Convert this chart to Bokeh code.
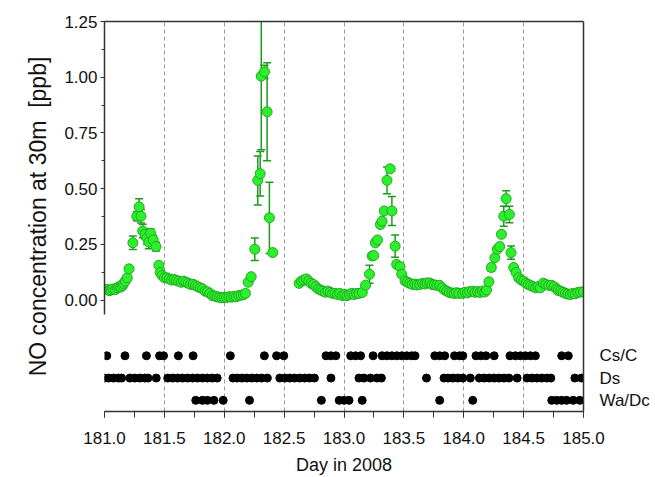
from bokeh.plotting import figure
from bokeh.models import (Range1d, LinearAxis, SingleIntervalTicker, FixedTicker,
                          PrintfTickFormatter, CustomJSTickFormatter, ColumnDataSource)
from bokeh.embed import file_html
from bokeh.resources import INLINE

# ---------------- data ----------------
day = [181.02, 181.04, 181.055, 181.07, 181.09, 181.105, 181.12, 181.135, 181.15, 181.16,
       181.173, 181.19, 181.205, 181.237, 181.27, 181.289, 181.305, 181.319, 181.338, 181.355,
       181.37, 181.385, 181.407, 181.43, 181.454, 181.465, 181.48, 181.50, 181.52, 181.54,
       181.56, 181.58, 181.60, 181.62, 181.64, 181.66, 181.68, 181.70, 181.72, 181.74,
       181.76, 181.78, 181.80, 181.82, 181.84, 181.86, 181.88, 181.90, 181.92, 181.94,
       181.96, 181.98, 182.00, 182.02, 182.04, 182.06, 182.08, 182.10, 182.12, 182.14,
       182.16, 182.177, 182.20, 182.225, 182.255, 182.28, 182.30, 182.309, 182.336, 182.358,
       182.377, 182.405,
       182.625, 182.645, 182.665, 182.685, 182.705, 182.725, 182.745, 182.765, 182.785, 182.805,
       182.825, 182.845, 182.865, 182.885, 182.905, 182.925, 182.945, 182.965, 182.985, 183.005,
       183.025, 183.045, 183.065, 183.085, 183.105, 183.125, 183.153, 183.18, 183.213, 183.235,
       183.249, 183.262, 183.28, 183.304, 183.318, 183.336, 183.359, 183.386, 183.40, 183.427,
       183.44, 183.468, 183.482, 183.51, 183.53, 183.55, 183.57, 183.59, 183.61, 183.633,
       183.655, 183.675, 183.695, 183.716, 183.735, 183.755, 183.775, 183.798, 183.82, 183.84,
       183.86, 183.88, 183.90, 183.92, 183.94, 183.96, 183.99, 184.01, 184.03, 184.05,
       184.074, 184.095, 184.115, 184.135, 184.155, 184.175, 184.19, 184.21, 184.23, 184.26,
       184.28, 184.30, 184.315, 184.334, 184.354, 184.381, 184.395, 184.417, 184.437, 184.458,
       184.48, 184.50, 184.52, 184.54, 184.56, 184.58, 184.60, 184.62, 184.64, 184.664,
       184.685, 184.71, 184.733, 184.755, 184.775, 184.79, 184.81, 184.83, 184.85, 184.87,
       184.89, 184.91, 184.93, 184.953, 184.975, 185.0]
no_ppb = [0.048, 0.042, 0.045, 0.05, 0.047, 0.055, 0.06, 0.058, 0.065, 0.075,
          0.085, 0.10, 0.14, 0.257, 0.376, 0.418, 0.376, 0.31, 0.295, 0.28,
          0.26, 0.30, 0.27, 0.24, 0.156, 0.124, 0.11, 0.10, 0.10, 0.095,
          0.09, 0.092, 0.088, 0.085, 0.08, 0.085, 0.08, 0.075, 0.07, 0.071,
          0.065, 0.06, 0.055, 0.05, 0.04, 0.037, 0.03, 0.02, 0.018, 0.015,
          0.012, 0.01, 0.012, 0.012, 0.015, 0.013, 0.016, 0.015, 0.02, 0.022,
          0.024, 0.03, 0.08, 0.105, 0.228, 0.537, 0.567, 1.005, 1.024, 0.845,
          0.369, 0.213,
          0.075, 0.085, 0.09, 0.095, 0.085, 0.075, 0.07, 0.06, 0.05, 0.045,
          0.04, 0.035, 0.04, 0.035, 0.03, 0.03, 0.025, 0.03, 0.02, 0.025,
          0.02, 0.025, 0.03, 0.025, 0.03, 0.03, 0.034, 0.067, 0.116, 0.198,
          0.20, 0.257, 0.27, 0.339, 0.354, 0.40, 0.537, 0.589, 0.40, 0.242,
          0.16, 0.15, 0.116, 0.086, 0.08, 0.075, 0.07, 0.072, 0.068, 0.07,
          0.075, 0.072, 0.077, 0.077, 0.07, 0.068, 0.066, 0.066, 0.055, 0.045,
          0.04, 0.034, 0.032, 0.03, 0.033, 0.03, 0.03, 0.035, 0.032, 0.038,
          0.04, 0.035, 0.038, 0.034, 0.04, 0.036, 0.045, 0.082, 0.146, 0.19,
          0.228, 0.24, 0.295, 0.376, 0.455, 0.384, 0.213, 0.146, 0.124, 0.10,
          0.09, 0.085, 0.075, 0.07, 0.065, 0.06, 0.055, 0.06, 0.055, 0.076,
          0.07, 0.066, 0.066, 0.06, 0.05, 0.043, 0.04, 0.035, 0.03, 0.027,
          0.025, 0.03, 0.028, 0.034, 0.036, 0.037]
err_points = {181.237: 0.03, 181.27: 0.02, 181.289: 0.037, 181.305: 0.03, 181.319: 0.03,
              181.338: 0.02, 181.355: 0.03, 181.37: 0.03, 181.385: 0.02, 181.407: 0.02,
              181.43: 0.02, 182.255: 0.05, 182.28: 0.11, 182.30: 0.10, 182.309: 0.33,
              182.336: 0.03, 182.358: 0.22, 182.377: 0.16, 183.213: 0.04, 183.359: 0.06,
              183.40: 0.065, 183.427: 0.05, 184.23: 0.015, 184.334: 0.045, 184.354: 0.035,
              184.381: 0.037, 184.395: 0.03}

cs_c = [181.019, 181.171, 181.350, 181.460, 181.493, 181.617, 181.740, 182.051, 182.335,
        182.437, 182.497, 182.850, 182.891, 182.932, 183.056, 183.097, 183.139, 183.243,
        183.318, 183.359, 183.400, 183.441, 183.483, 183.524, 183.565, 183.593, 183.758,
        183.799, 183.841, 183.923, 183.965, 183.992, 184.102, 184.143, 184.185, 184.254,
        184.386, 184.432, 184.474, 184.515, 184.556, 184.598, 184.818, 184.873]
ds = [181.000, 181.033, 181.074, 181.116, 181.143, 181.212, 181.253, 181.295, 181.336,
      181.363, 181.432, 181.528, 181.570, 181.611, 181.652, 181.694, 181.735, 181.776,
      181.818, 181.859, 181.900, 181.941, 182.073, 182.107, 182.148, 182.189, 182.230,
      182.272, 182.313, 182.360, 182.464, 182.506, 182.547, 182.588, 182.630, 182.671,
      182.712, 182.753, 182.891, 183.125, 183.166, 183.221, 183.276, 183.312, 183.689,
      183.835, 183.868, 183.909, 183.951, 183.992, 184.055, 184.130, 184.171, 184.212,
      184.254, 184.295, 184.336, 184.377, 184.446, 184.529, 184.570, 184.611, 184.653,
      184.694, 184.727, 184.928, 184.983]
wa_dc = [181.762, 181.818, 181.859, 181.914, 181.991, 182.211, 182.811, 182.960, 183.001,
         183.042, 183.152, 183.799, 184.075, 184.735, 184.776, 184.818, 184.859, 184.914,
         184.969]
row_names = ["Cs/C", "Ds", "Wa/Dc"]
row_pos = [-0.25, -0.35, -0.45]
dash_days = [181.5, 182.0, 182.5, 183.0, 183.5, 184.0, 184.5]

FONT = "Liberation Sans"
AX = "#333333"
TXT = "#111111"

p = figure(width=652, height=477, output_backend="svg", toolbar_location=None,
           x_range=Range1d(181.0, 185.0), y_range=Range1d(-0.5, 1.25),
           x_axis_location=None, y_axis_location=None,
           min_border_left=104, min_border_top=21, min_border_right=63, min_border_bottom=64)
p.outline_line_color = None
p.background_fill_color = "white"
p.border_fill_color = "white"

# dashed vertical lines
p.ygrid.visible = False
p.xgrid.ticker = FixedTicker(ticks=dash_days)
p.xgrid.grid_line_color = "#999999"
p.xgrid.grid_line_dash = "4 3"
p.xgrid.grid_line_width = 1

# left axis
la = LinearAxis(bounds=(-0.0625, 1.25),
                ticker=SingleIntervalTicker(interval=0.25, num_minor_ticks=2),
                formatter=PrintfTickFormatter(format="%.2f"),
                axis_label="NO concentration at 30m\u00a0\u00a0[ppb]")
la.axis_line_color = AX
la.axis_line_width = 1.5
la.major_tick_line_color = AX
la.minor_tick_line_color = AX
la.major_tick_out = 4
la.major_tick_in = 0
la.minor_tick_out = 3
la.minor_tick_in = 0
la.major_label_text_font = FONT
la.major_label_text_font_size = "17px"
la.major_label_text_color = TXT
la.major_label_standoff = 3
la.axis_label_text_font = FONT
la.axis_label_text_font_size = "23px"
la.axis_label_text_font_style = "normal"
la.axis_label_text_color = TXT
la.axis_label_standoff = 10
p.add_layout(la, "left")

# bottom axis
ba = LinearAxis(ticker=SingleIntervalTicker(interval=0.5, num_minor_ticks=2),
                formatter=PrintfTickFormatter(format="%.1f"),
                axis_label="Day in 2008")
ba.axis_line_color = AX
ba.axis_line_width = 1.5
ba.major_tick_line_color = AX
ba.minor_tick_line_color = AX
ba.major_tick_out = 6
ba.major_tick_in = 0
ba.minor_tick_out = 6
ba.minor_tick_in = 0
ba.major_label_text_font = FONT
ba.major_label_text_font_size = "17px"
ba.major_label_text_color = TXT
ba.major_label_standoff = 14
ba.axis_label_text_font = FONT
ba.axis_label_text_font_size = "18px"
ba.axis_label_text_font_style = "normal"
ba.axis_label_text_color = TXT
ba.axis_label_standoff = 8
p.add_layout(ba, "below")

# right axis (border + row names)
ra = LinearAxis(ticker=FixedTicker(ticks=row_pos),
                formatter=CustomJSTickFormatter(
                    args=dict(pos=row_pos, names=row_names),
                    code="""
let best = 0; let d = 1e9;
for (let i = 0; i < pos.length; i++) { const e = Math.abs(pos[i] - tick); if (e < d) { d = e; best = i; } }
return d < 1e-6 ? names[best] : '';
"""))
ra.axis_line_color = AX
ra.axis_line_width = 1.5
ra.major_tick_line_color = None
ra.minor_tick_line_color = None
ra.major_label_text_font = FONT
ra.major_label_text_font_size = "17px"
ra.major_label_text_color = TXT
ra.major_label_standoff = 10
p.add_layout(ra, "right")

# top border
ta = LinearAxis(ticker=FixedTicker(ticks=[]))
ta.axis_line_color = AX
ta.axis_line_width = 1.5
ta.major_tick_line_color = None
ta.minor_tick_line_color = None
ta.major_label_text_font_size = "0px"
ta.major_label_standoff = 0
p.add_layout(ta, "above")

# error bars
ex, elo, ehi = [], [], []
for d_, v_ in zip(day, no_ppb):
    e = err_points.get(d_, 0.0)
    if e > 0:
        ex.append(d_); elo.append(v_ - e); ehi.append(v_ + e)
esrc = ColumnDataSource(dict(x=ex, lo=elo, hi=ehi))
GREEN_LINE = "#1e9b1e"
p.segment(x0="x", y0="lo", x1="x", y1="hi", source=esrc, line_color=GREEN_LINE, line_width=1.5)
p.scatter(x="x", y="lo", source=esrc, marker="dash", size=8, line_color=GREEN_LINE, line_width=1.5)
p.scatter(x="x", y="hi", source=esrc, marker="dash", size=8, line_color=GREEN_LINE, line_width=1.5)

# NO data
p.scatter(day, no_ppb, marker="circle", size=10, fill_color="#2cf02c", line_color="#22aa22", line_width=1)

# regime rows
for xs, yv in zip([cs_c, ds, wa_dc], row_pos):
    p.scatter(xs, [yv] * len(xs), marker="circle", size=8, fill_color="black", line_color="black")

open("out.html", "w").write(file_html(p, INLINE))
